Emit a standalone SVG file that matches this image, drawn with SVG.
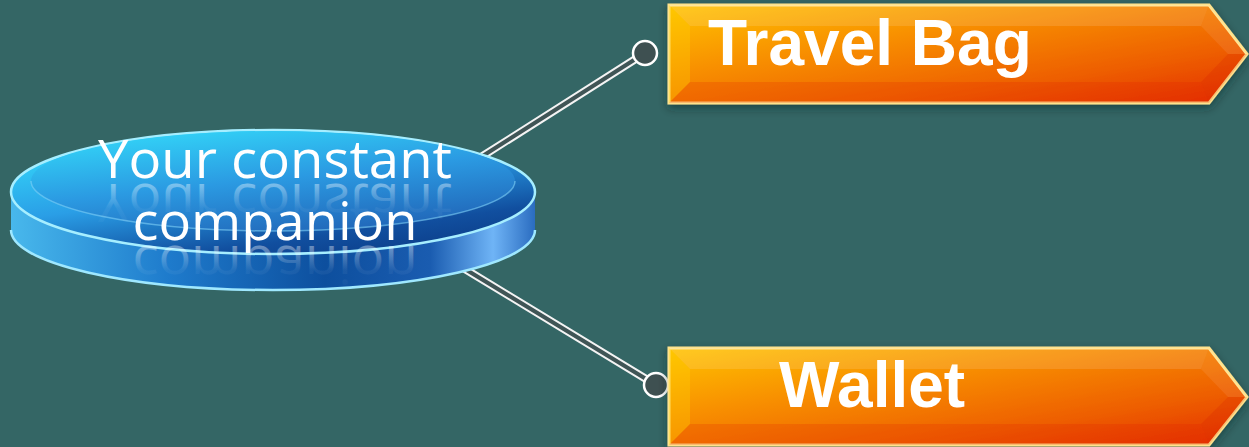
<svg xmlns="http://www.w3.org/2000/svg" width="1249" height="447" viewBox="0 0 1249 447">
<defs>
<style>
.bg{fill:#346665}
.wire-o{stroke:#f4f4f4;stroke-width:8;stroke-linecap:round;fill:none}
.wire-i{stroke:#405556;stroke-width:4;stroke-linecap:round;fill:none}
.dot{fill:#3e5051;stroke:#ffffff;stroke-width:2.5}
.arrow{fill:url(#orange);stroke:#ffe28c;stroke-width:3;stroke-linejoin:miter}
.lbl{font-family:"Liberation Sans",Arial,sans-serif;font-weight:bold;font-size:64px;fill:#ffffff}
.disc-t{font-family:"Open Sans","Noto Sans",sans-serif;font-size:53px;fill:#ffffff;text-anchor:middle}
.refl{font-family:"Open Sans","Noto Sans",sans-serif;font-size:53px;fill:url(#reflFade);text-anchor:middle}
</style>
<linearGradient id="orange" x1="0" y1="0" x2="1" y2="1">
<stop offset="0" stop-color="#ffc300"/>
<stop offset="0.35" stop-color="#f89000"/>
<stop offset="0.7" stop-color="#ee6000"/>
<stop offset="1" stop-color="#e42e00"/>
</linearGradient>
<linearGradient id="topFace" x1="0.2" y1="0" x2="0.8" y2="1">
<stop offset="0" stop-color="#35dcfb"/>
<stop offset="0.45" stop-color="#2a9ee6"/>
<stop offset="0.8" stop-color="#114f9f"/>
<stop offset="1" stop-color="#0b3d88"/>
</linearGradient>
<linearGradient id="innerFace" x1="0.2" y1="0" x2="0.7" y2="1">
<stop offset="0" stop-color="#33d6f8"/>
<stop offset="0.5" stop-color="#2b9ae2"/>
<stop offset="1" stop-color="#2166b8"/>
</linearGradient>
<linearGradient id="side" x1="0" y1="0" x2="1" y2="0">
<stop offset="0" stop-color="#48b8ec"/>
<stop offset="0.3" stop-color="#1e7bcc"/>
<stop offset="0.6" stop-color="#0d4f9e"/>
<stop offset="0.8" stop-color="#1a5cb0"/>
<stop offset="0.92" stop-color="#6fb4f6"/>
<stop offset="1" stop-color="#2a6cc0"/>
</linearGradient>
<linearGradient id="reflFade" x1="0" y1="0" x2="0" y2="1">
<stop offset="0" stop-color="#ffffff" stop-opacity="0"/>
<stop offset="0.45" stop-color="#ffffff" stop-opacity="0.05"/>
<stop offset="1" stop-color="#ffffff" stop-opacity="0.6"/>
</linearGradient>
<filter id="shadow" x="-10%" y="-20%" width="120%" height="150%">
<feDropShadow dx="0" dy="4" stdDeviation="5" flood-color="#102828" flood-opacity="0.45"/>
</filter>
</defs>

<rect class="bg" x="0" y="0" width="1249" height="447"/>

<g id="connectors">
<line class="wire-o" x1="470" y1="164" x2="645" y2="53"/>
<line class="wire-i" x1="470" y1="164" x2="645" y2="53"/>
<circle class="dot" cx="645" cy="53" r="12"/>
<line class="wire-o" x1="460" y1="266" x2="656" y2="385"/>
<line class="wire-i" x1="460" y1="266" x2="656" y2="385"/>
<circle class="dot" cx="656" cy="385" r="12"/>
</g>

<g id="node-companion">
<path d="M11,192 L11,230 A262,60 0 0 0 535,230 L535,192 Z" fill="url(#side)"/>
<path d="M11,230 A262,60 0 0 0 535,230" fill="none" stroke="#9fe8ff" stroke-width="2.5"/>
<ellipse cx="273" cy="192" rx="262" ry="62" fill="url(#topFace)" stroke="#a6eeff" stroke-width="2.5"/>
<ellipse cx="273" cy="181" rx="242" ry="50" fill="url(#innerFace)"/>
<path d="M31,181 A242,50 0 0 0 515,181" fill="none" stroke="#7fd0f6" stroke-width="1.5" opacity="0.6"/>
<text class="disc-t" x="275" y="178" textLength="354" lengthAdjust="spacingAndGlyphs">Your constant</text>
<text class="refl" x="275" y="-184" transform="scale(1,-1)" textLength="354" lengthAdjust="spacingAndGlyphs">Your constant</text>
<text class="disc-t" x="275" y="240" textLength="285" lengthAdjust="spacingAndGlyphs">companion</text>
<text class="refl" x="275" y="-246" transform="scale(1,-1)" textLength="285" lengthAdjust="spacingAndGlyphs">companion</text>
</g>

<g id="node-travel-bag">
<polygon class="arrow" filter="url(#shadow)" points="669,5 1209,5 1247,54 1209,103 669,103"/>
<polygon points="669,5 1209,5 1201,26 690,26" fill="#ffffff" opacity="0.12"/>
<polygon points="669,5 690,26 690,82 669,103" fill="#ffd400" opacity="0.3"/>
<polygon points="669,103 690,82 1201,82 1209,103" fill="#e02000" opacity="0.2"/>
<polygon points="1209,5 1247,54 1228,54 1201,26" fill="#ffffff" opacity="0.08"/>
<polygon points="1228,54 1247,54 1209,103 1201,82" fill="#d01800" opacity="0.18"/>
<text class="lbl" x="708" y="65">Travel Bag</text>
</g>

<g id="node-wallet">
<polygon class="arrow" filter="url(#shadow)" points="669,348 1209,348 1247,397 1209,445 669,445"/>
<polygon points="669,348 1209,348 1201,369 690,369" fill="#ffffff" opacity="0.12"/>
<polygon points="669,348 690,369 690,424 669,445" fill="#ffd400" opacity="0.3"/>
<polygon points="669,445 690,424 1201,424 1209,445" fill="#e02000" opacity="0.2"/>
<polygon points="1209,348 1247,397 1228,397 1201,369" fill="#ffffff" opacity="0.08"/>
<polygon points="1228,397 1247,397 1209,445 1201,424" fill="#d01800" opacity="0.18"/>
<text class="lbl" x="779" y="407">Wallet</text>
</g>
</svg>
